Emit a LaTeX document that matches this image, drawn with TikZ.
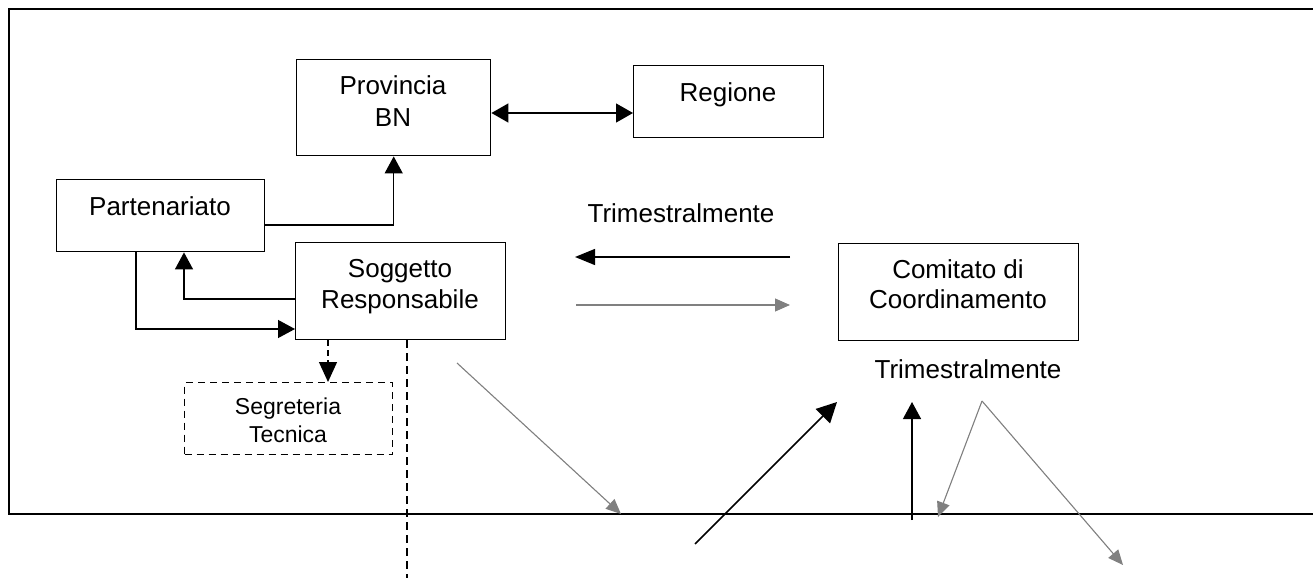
\documentclass[tikz,border=0pt]{standalone}
\usepackage{fontspec}
\setmainfont{Liberation Sans}
\usetikzlibrary{arrows.meta,calc}
\begin{document}
\begin{tikzpicture}[x=1pt,y=-1pt,
  box/.style={draw=black,line width=1.4pt,inner sep=0pt,anchor=north west},
  dbox/.style={draw=black,line width=1.3pt,dash pattern=on 7pt off 5pt,inner sep=0pt,anchor=north west},
  txt/.style={anchor=base,inner sep=0pt,font=\fontsize{26}{31}\selectfont},
  stxt/.style={anchor=base,inner sep=0pt,font=\fontsize{23}{28}\selectfont},
  blk/.style={draw=black,line width=1.3pt,-{Triangle[length=17pt,width=18pt]}},
  blk2/.style={draw=black,line width=1.3pt,{Triangle[length=17pt,width=19pt]}-{Triangle[length=17pt,width=19pt]}},
  dsh/.style={draw=black,line width=1.3pt,dash pattern=on 6pt off 4pt,-{Triangle[length=20pt,width=18pt]}},
  gry/.style={draw=black!50,line width=1.1pt,-{Triangle[length=15pt,width=13pt]},fill=black!45},
  frame/.style={draw=black,line width=1.1pt}]
\useasboundingbox (0,0) rectangle (1313,578);
% outer frame
\draw[frame] (1313,9) -- (9,9) -- (9,514) -- (1313,514);
% boxes
\node[box,minimum width=194pt,minimum height=96pt] (prov) at (296,59) {};
\node[box,minimum width=190pt,minimum height=72pt] (reg) at (633,65) {};
\node[box,minimum width=208pt,minimum height=72pt] (part) at (56,179) {};
\node[box,minimum width=210pt,minimum height=97pt] (sog) at (295,242) {};
\node[box,minimum width=240pt,minimum height=97pt] (com) at (838,243) {};
\node[dbox,minimum width=208pt,minimum height=72pt] (seg) at (184,382) {};
% texts
\node[txt] (tprov1) at (393,94) {Provincia};
\node[txt] (tprov2) at (393,126) {BN};
\node[txt] (treg) at (728,101) {Regione};
\node[txt] (tpart) at (160,215) {Partenariato};
\node[txt] (tsog1) at (400,277) {Soggetto};
\node[txt] (tsog2) at (400,308) {Responsabile};
\node[txt] (tcom1) at (958,278) {Comitato di};
\node[txt] (tcom2) at (958,308) {Coordinamento};
\node[stxt] (tseg1) at (288,414) {Segreteria};
\node[stxt] (tseg2) at (288,442) {Tecnica};
\node[txt] (trim1) at (681,222) {Trimestralmente};
\node[txt] (trim2) at (968,378) {Trimestralmente};
% helper coordinates
\coordinate (y113) at (0,113);
\coordinate (y225) at (0,225);
\coordinate (y299) at (0,299);
\coordinate (y329) at (0,329);
\coordinate (x136) at (136,0);
\coordinate (x184) at (184,0);
\coordinate (x328) at (328,0);
\coordinate (x407) at (407,0);
\coordinate (dashend) at (407,578);
\coordinate (la1) at (790,257);
\coordinate (la2) at (575,257);
\coordinate (ra1) at (576,305);
\coordinate (ra2) at (790,305);
\coordinate (d1a) at (457,363);
\coordinate (d1b) at (621,514);
\coordinate (d2a) at (695,544);
\coordinate (d2b) at (837,402);
\coordinate (v1a) at (912,520);
\coordinate (v1b) at (912,402);
\coordinate (apex) at (982,401);
\coordinate (g1) at (938,517);
\coordinate (g2) at (1123,565);
% connectors
\draw[blk2] (prov.east |- y113) -- (reg.west |- y113);
\draw[blk] (part.east |- y225) -| (prov.south);
\draw[blk] (sog.west |- y299) -| (part.south -| x184);
\draw[blk] (part.south -| x136) |- (sog.west |- y329);
\draw[dsh] (sog.south -| x328) -- (seg.north -| x328);
\draw[draw=black,line width=1.3pt,dash pattern=on 8pt off 5pt] (sog.south -| x407) -- (dashend);
\draw[draw=black,line width=1.3pt,-{Triangle[length=20pt,width=16pt]}] (la1) -- (la2);
\draw[gry] (ra1) -- (ra2);
\draw[gry] (d1a) -- (d1b);
\draw[draw=black,line width=1.6pt,-{Triangle[length=20pt,width=20pt]}] (d2a) -- (d2b);
\draw[blk] (v1a) -- (v1b);
\draw[gry] (apex) -- (g1);
\draw[gry] (apex) -- (g2);
\end{tikzpicture}
\end{document}
